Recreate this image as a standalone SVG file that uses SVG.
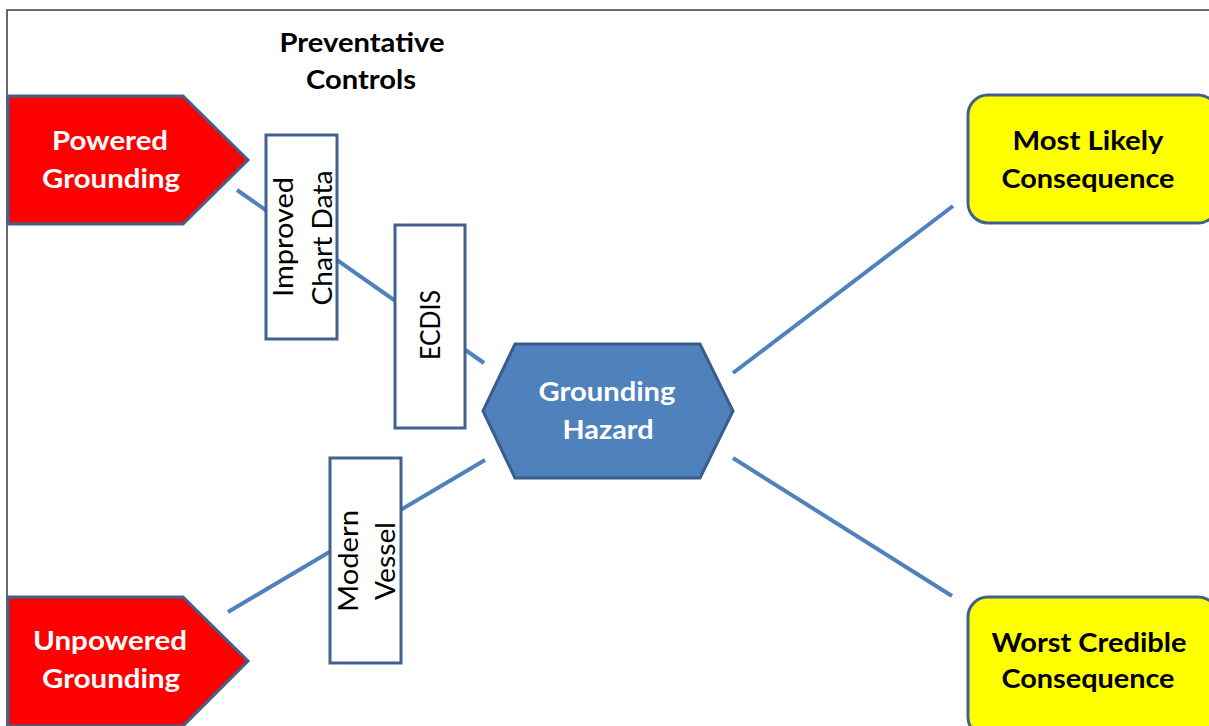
<svg xmlns="http://www.w3.org/2000/svg" width="1209" height="726" viewBox="0 0 1209 726">
<style>
.frame{fill:none;stroke:#3a3a3a;stroke-width:1.5}
.conn{stroke:#4f81bd;stroke-width:4;fill:none}
.threat{fill:#ff0000;stroke:#3f6190;stroke-width:3}
.ctrl{fill:#ffffff;stroke:#41628f;stroke-width:3}
.hazard{fill:#4f81bd;stroke:#385d8a;stroke-width:3}
.cons{fill:#ffff00;stroke:#41628f;stroke-width:3}
.b{font-family:Lato,"Liberation Sans",sans-serif;font-weight:bold;font-size:27px;text-anchor:middle}
.r{font-family:Lato,"Liberation Sans",sans-serif;font-size:27px;text-anchor:middle;fill:#000}
.w{fill:#ffffff}
.k{fill:#000000}
</style>
<rect width="1209" height="726" fill="#ffffff"/>
<path class="frame" d="M7,726 V10 H1209"/>
<g id="connectors">
<line class="conn" x1="237" y1="190" x2="484" y2="363"/>
<line class="conn" x1="228" y1="612" x2="485" y2="460"/>
<line class="conn" x1="733" y1="373" x2="953" y2="206"/>
<line class="conn" x1="733" y1="458" x2="952" y2="596"/>
</g>
<g id="title">
<text class="b k" x="362" y="52" textLength="165" lengthAdjust="spacingAndGlyphs">Preventative</text>
<text class="b k" x="361" y="89" textLength="110" lengthAdjust="spacingAndGlyphs">Controls</text>
</g>
<g id="powered-grounding">
<polygon class="threat" points="8,96 183,96 248,160 183,224 8,224"/>
<text class="b w" x="110" y="150" textLength="116" lengthAdjust="spacingAndGlyphs">Powered</text>
<text class="b w" x="111" y="188" textLength="138" lengthAdjust="spacingAndGlyphs">Grounding</text>
</g>
<g id="unpowered-grounding">
<polygon class="threat" points="8,597 183,597 248,661 183,726 8,726"/>
<text class="b w" x="110" y="650" textLength="154" lengthAdjust="spacingAndGlyphs">Unpowered</text>
<text class="b w" x="111" y="688" textLength="138" lengthAdjust="spacingAndGlyphs">Grounding</text>
</g>
<g id="improved-chart-data">
<rect class="ctrl" x="266" y="135" width="71" height="204"/>
<text class="r" transform="translate(293,237) rotate(-90)" textLength="120" lengthAdjust="spacingAndGlyphs">Improved</text>
<text class="r" transform="translate(332,238) rotate(-90)" textLength="135" lengthAdjust="spacingAndGlyphs">Chart Data</text>
</g>
<g id="ecdis">
<rect class="ctrl" x="395" y="225" width="70" height="203"/>
<text class="r" transform="translate(440,325) rotate(-90)" textLength="70" lengthAdjust="spacingAndGlyphs">ECDIS</text>
</g>
<g id="modern-vessel">
<rect class="ctrl" x="330" y="458" width="71" height="205"/>
<text class="r" transform="translate(358,561) rotate(-90)" textLength="102" lengthAdjust="spacingAndGlyphs">Modern</text>
<text class="r" transform="translate(395,561) rotate(-90)" textLength="78" lengthAdjust="spacingAndGlyphs">Vessel</text>
</g>
<g id="grounding-hazard">
<polygon class="hazard" points="483,411 515,344 700,344 733,411 700,478 515,478"/>
<text class="b w" x="607" y="401" textLength="137" lengthAdjust="spacingAndGlyphs">Grounding</text>
<text class="b w" x="608" y="439" textLength="91" lengthAdjust="spacingAndGlyphs">Hazard</text>
</g>
<g id="most-likely-consequence">
<rect class="cons" x="968" y="95" width="250" height="128" rx="20" ry="20"/>
<text class="b k" x="1088" y="150" textLength="151" lengthAdjust="spacingAndGlyphs">Most Likely</text>
<text class="b k" x="1088" y="188" textLength="173" lengthAdjust="spacingAndGlyphs">Consequence</text>
</g>
<g id="worst-credible-consequence">
<rect class="cons" x="968" y="597" width="250" height="140" rx="20" ry="20"/>
<text class="b k" x="1089" y="652" textLength="195" lengthAdjust="spacingAndGlyphs">Worst Credible</text>
<text class="b k" x="1088" y="688" textLength="173" lengthAdjust="spacingAndGlyphs">Consequence</text>
</g>
</svg>
